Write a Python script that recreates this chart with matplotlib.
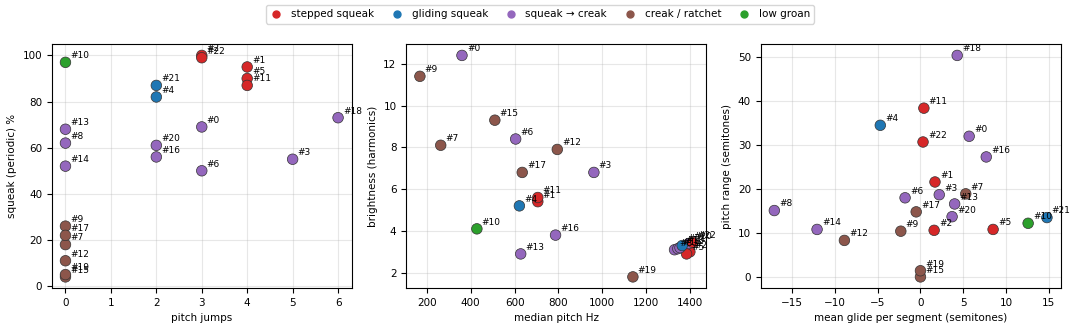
import numpy as np
import matplotlib.pyplot as plt
from matplotlib.lines import Line2D

# clip ids 0..22
ids = list(range(23))
category = ['squeak → creak', 'stepped squeak', 'stepped squeak', 'squeak → creak', 'gliding squeak',
            'stepped squeak', 'squeak → creak', 'creak / ratchet', 'squeak → creak', 'creak / ratchet',
            'low groan', 'stepped squeak', 'creak / ratchet', 'squeak → creak', 'squeak → creak',
            'creak / ratchet', 'squeak → creak', 'creak / ratchet', 'squeak → creak', 'creak / ratchet',
            'squeak → creak', 'gliding squeak', 'stepped squeak']

pitch_jumps = [3, 4, 3, 5, 2, 4, 3, 0, 0, 0, 0, 4, 0, 0, 0, 0, 2, 0, 6, 0, 2, 2, 3]
squeak_pct = [69, 95, 100, 55, 82, 90, 50, 18, 62, 26, 97, 87, 11, 68, 52, 4, 56, 22, 73, 5, 61, 87, 99]

median_hz = [360, 706, 1400, 962, 622, 1385, 605, 263, 1330, 168, 428, 706, 795, 628, 1345,
             510, 787, 635, 1355, 1140, 1395, 1365, 1412]
brightness = [12.4, 5.4, 3.0, 6.8, 5.2, 2.9, 8.4, 8.1, 3.1, 11.4, 4.1, 5.6, 7.9, 2.9, 3.15,
              9.3, 3.8, 6.8, 3.2, 1.8, 3.4, 3.3, 3.45]

mean_glide = [5.7, 1.7, 1.6, 2.2, -4.7, 8.5, -1.8, 5.3, -17.1, -2.3, 12.6, 0.4, -8.9, 4.0, -12.1,
              0.0, 7.7, -0.5, 4.3, 0.0, 3.7, 14.8, 0.3]
pitch_range = [32.0, 21.6, 10.6, 18.7, 34.5, 10.8, 18.0, 18.9, 15.1, 10.4, 12.2, 38.4, 8.3, 16.6, 10.8,
               0.0, 27.3, 14.8, 50.4, 1.4, 13.7, 13.5, 30.7]

cat_names = ['stepped squeak', 'gliding squeak', 'squeak → creak', 'creak / ratchet', 'low groan']
cat_colors = {'stepped squeak': '#d62728', 'gliding squeak': '#1f77b4', 'squeak → creak': '#9467bd',
              'creak / ratchet': '#8c564b', 'low groan': '#2ca02c'}

panels = [
    (pitch_jumps, squeak_pct, 'pitch jumps', 'squeak (periodic) %'),
    (median_hz, brightness, 'median pitch Hz', 'brightness (harmonics)'),
    (mean_glide, pitch_range, 'mean glide per segment (semitones)', 'pitch range (semitones)'),
]

fig, axes = plt.subplots(1, 3, figsize=(10.8, 3.31), dpi=100)
cols = [cat_colors[c] for c in category]
for ax, (xv, yv, xl, yl) in zip(axes, panels):
    ax.scatter(xv, yv, c=cols, s=58, edgecolors='#333333', linewidths=0.5, zorder=3)
    for i, x, y in zip(ids, xv, yv):
        ax.annotate(f'#{i}', (x, y), xytext=(3.5, 3), textcoords='offset points', fontsize=6.5)
    ax.set_xlabel(xl, fontsize=7.5)
    ax.set_ylabel(yl, fontsize=7.5)
    ax.tick_params(labelsize=7.5)
    ax.grid(True, alpha=0.3)

handles = [Line2D([], [], marker='o', linestyle='', color=cat_colors[c], markersize=5, label=c)
           for c in cat_names]
fig.legend(handles=handles, loc='upper center', ncol=5, fontsize=7.5, bbox_to_anchor=(0.5, 1.0),
           handlelength=1.2, columnspacing=1.6)

plt.subplots_adjust(left=0.048, right=0.982, top=0.866, bottom=0.13, wspace=0.182)
plt.savefig('out.png', dpi=100)
